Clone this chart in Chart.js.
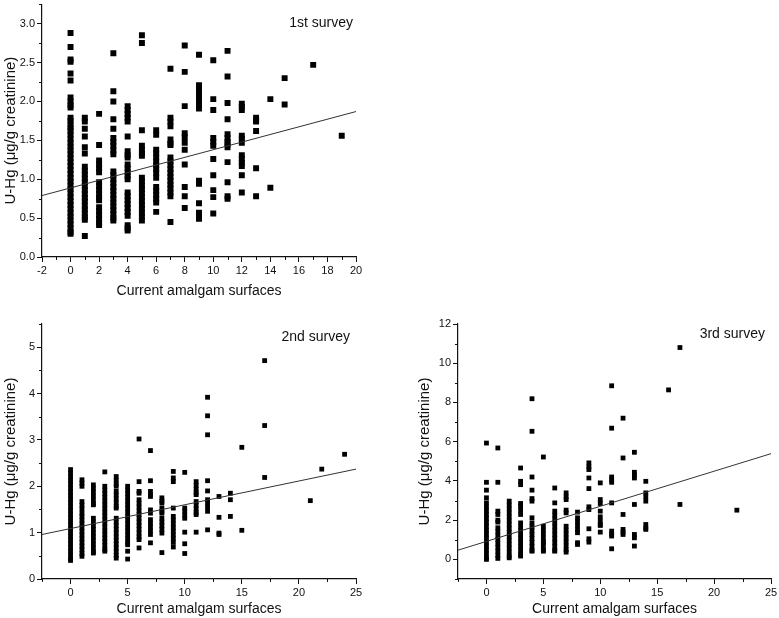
<!DOCTYPE html>
<html>
<head>
<meta charset="utf-8">
<script src="https://cdn.jsdelivr.net/npm/chart.js@4.4.1/dist/chart.umd.min.js"></script>
<style>
  body { margin: 0; background: #fff; width: 779px; height: 618px; position: relative; overflow: hidden; }
  canvas { position: absolute; }
</style>
</head>
<body>
<canvas id="c1" width="390" height="300" style="left:0;top:0"></canvas>
<canvas id="c2" width="390" height="318" style="left:0;top:300px"></canvas>
<canvas id="c3" width="389" height="318" style="left:390px;top:300px"></canvas>
<script>
// 1st survey: amalgam surfaces and the U-Hg values read at each of them
const s1Surfaces = [0, 1, 2, 3, 4, 5, 6, 7, 8, 9, 10, 11, 12, 13, 14, 15, 17, 19];
const s1Hg = [
  [2.88, 2.70, 2.54, 2.51, 2.36, 2.27, 2.05, 2.00, 1.95, 1.92, 1.79, 1.75, 1.70, 1.66, 1.62, 1.57, 1.52, 1.47, 1.42, 1.37, 1.32, 1.27, 1.22, 1.17, 1.12, 1.07, 1.02, 0.97, 0.92, 0.87, 0.82, 0.77, 0.72, 0.67, 0.62, 0.57, 0.52, 0.47, 0.42, 0.37, 0.32, 0.30],
  [1.79, 1.74, 1.65, 1.55, 1.41, 1.33, 1.16, 1.11, 1.06, 1.01, 0.96, 0.91, 0.86, 0.81, 0.76, 0.72, 0.66, 0.61, 0.56, 0.51, 0.48, 0.27],
  [1.84, 1.44, 1.24, 1.19, 1.14, 1.09, 0.96, 0.91, 0.86, 0.81, 0.76, 0.73, 0.64, 0.59, 0.54, 0.49, 0.44, 0.41],
  [2.62, 2.13, 2.00, 1.77, 1.65, 1.53, 1.48, 1.43, 1.37, 1.32, 1.10, 1.05, 1.00, 0.95, 0.90, 0.85, 0.80, 0.75, 0.70, 0.65, 0.60, 0.55, 0.50, 0.47],
  [1.94, 1.89, 1.84, 1.79, 1.74, 1.55, 1.36, 1.31, 1.28, 1.19, 1.14, 1.09, 1.04, 1.00, 0.83, 0.78, 0.73, 0.68, 0.63, 0.58, 0.53, 0.41, 0.37, 0.34],
  [2.85, 2.75, 1.63, 1.43, 1.38, 1.33, 1.30, 1.02, 0.97, 0.92, 0.87, 0.82, 0.77, 0.72, 0.67, 0.62, 0.57, 0.52, 0.47],
  [1.63, 1.57, 1.38, 1.33, 1.28, 1.23, 1.18, 1.13, 1.08, 1.02, 0.90, 0.85, 0.80, 0.75, 0.70, 0.58],
  [2.42, 1.79, 1.74, 1.68, 1.51, 1.46, 1.44, 1.28, 1.23, 1.18, 1.13, 1.08, 1.03, 0.98, 0.93, 0.88, 0.83, 0.78, 0.45],
  [2.72, 2.38, 1.94, 1.59, 1.54, 1.47, 1.38, 1.19, 0.90, 0.78, 0.63],
  [2.60, 2.21, 2.16, 2.11, 2.06, 2.00, 1.96, 1.91, 0.98, 0.94, 0.69, 0.57, 0.53, 0.49],
  [2.53, 2.03, 1.89, 1.53, 1.48, 1.43, 1.26, 1.05, 0.86, 0.77, 0.56],
  [2.65, 2.32, 1.98, 1.77, 1.58, 1.53, 1.48, 1.45, 1.41, 1.22, 0.96, 0.78, 0.75],
  [1.97, 1.93, 1.89, 1.56, 1.52, 1.47, 1.31, 1.26, 1.21, 1.17, 1.05, 0.83],
  [1.79, 1.76, 1.74, 1.62, 1.14, 0.78],
  [2.03, 0.89],
  [2.30, 1.96],
  [2.47],
  [1.56]
];
const s1FitX = [-2, 20];
const s1FitY = [0.79, 1.87];

// 2nd survey
const s2Surfaces = [0, 1, 2, 3, 4, 5, 6, 7, 8, 9, 10, 11, 12, 13, 14, 15, 17, 21, 22, 24];
const s2Hg = [
  [2.36, 2.28, 2.20, 2.12, 2.04, 1.96, 1.88, 1.80, 1.72, 1.64, 1.56, 1.48, 1.40, 1.32, 1.24, 1.16, 1.08, 1.00, 0.92, 0.84, 0.76, 0.68, 0.60, 0.52, 0.44, 0.40],
  [2.14, 2.07, 2.00, 1.67, 1.59, 1.51, 1.42, 1.35, 1.27, 1.19, 1.11, 1.03, 0.95, 0.87, 0.79, 0.71, 0.63, 0.55, 0.49],
  [2.03, 1.95, 1.87, 1.79, 1.71, 1.63, 1.60, 1.31, 1.23, 1.15, 1.07, 0.99, 0.91, 0.83, 0.75, 0.67, 0.59, 0.56],
  [2.31, 2.00, 1.92, 1.84, 1.76, 1.68, 1.60, 1.52, 1.44, 1.36, 1.28, 1.20, 1.12, 1.04, 0.96, 0.88, 0.80, 0.72, 0.64, 0.60],
  [2.21, 2.13, 2.05, 2.00, 1.89, 1.81, 1.73, 1.65, 1.57, 1.53, 1.31, 1.23, 1.15, 1.07, 0.99, 0.91, 0.83, 0.75, 0.67, 0.59, 0.51, 0.45],
  [2.00, 1.92, 1.84, 1.76, 1.68, 1.60, 1.52, 1.44, 1.35, 1.27, 1.19, 1.11, 1.03, 0.95, 0.87, 0.79, 0.74, 0.60, 0.43],
  [3.02, 2.10, 1.89, 1.85, 1.71, 1.63, 1.55, 1.47, 1.39, 1.31, 1.23, 1.15, 1.07, 0.99, 0.91, 0.85, 0.67],
  [2.77, 2.12, 1.89, 1.82, 1.78, 1.49, 1.42, 1.28, 1.20, 1.12, 1.04, 0.96, 0.78],
  [1.75, 1.68, 1.64, 1.53, 1.46, 1.42, 1.31, 1.23, 1.15, 1.07, 0.99, 0.57],
  [2.32, 2.18, 2.10, 1.53, 1.35, 1.27, 1.19, 1.11, 1.03, 0.95, 0.87, 0.79, 0.69],
  [2.30, 1.53, 1.46, 1.38, 1.31, 1.01, 0.76, 0.55],
  [2.10, 2.02, 1.94, 1.86, 1.82, 1.67, 1.59, 1.51, 1.43, 1.39, 1.01],
  [3.92, 3.52, 3.11, 2.12, 1.90, 1.71, 1.63, 1.55, 1.46, 1.06],
  [1.78, 1.33, 0.99, 0.96],
  [1.85, 1.71, 1.35],
  [2.84, 1.05],
  [4.71, 3.31, 2.19],
  [1.69],
  [2.37],
  [2.69]
];
const s2FitX = [-2.5, 25];
const s2FitY = [0.96, 2.37];

// 3rd survey
const s3Surfaces = [0, 1, 2, 3, 4, 5, 6, 7, 8, 9, 10, 11, 12, 13, 14, 16, 17, 22];
const s3Hg = [
  [5.93, 3.93, 3.53, 3.14, 2.88, 2.68, 2.48, 2.28, 2.08, 1.88, 1.68, 1.48, 1.28, 1.08, 0.88, 0.68, 0.48, 0.28, 0.08, 0.00],
  [5.68, 3.93, 2.46, 2.29, 2.00, 1.90, 1.61, 1.41, 1.21, 1.01, 0.81, 0.61, 0.41, 0.21, 0.05],
  [2.97, 2.77, 2.57, 2.37, 2.17, 1.97, 1.77, 1.57, 1.37, 1.17, 0.97, 0.77, 0.57, 0.37, 0.17, 0.08],
  [4.66, 3.98, 3.81, 2.85, 2.71, 2.51, 2.29, 1.86, 1.66, 1.46, 1.26, 1.06, 0.86, 0.66, 0.46, 0.26, 0.17],
  [8.19, 6.53, 4.20, 3.53, 3.10, 2.97, 2.12, 1.86, 1.66, 1.46, 1.26, 1.06, 0.86, 0.66, 0.46, 0.42],
  [5.22, 1.69, 1.49, 1.29, 1.09, 0.89, 0.85, 0.68, 0.48, 0.42],
  [3.64, 2.88, 2.46, 2.26, 2.06, 1.86, 1.66, 1.46, 1.26, 1.06, 0.86, 0.66, 0.46, 0.42],
  [3.39, 3.19, 3.05, 2.51, 2.37, 1.69, 1.49, 1.29, 1.09, 0.89, 0.69, 0.49, 0.37],
  [2.41, 2.12, 1.92, 1.72, 1.52, 1.36, 0.85, 0.76],
  [4.92, 4.72, 4.58, 4.15, 3.61, 2.68, 2.54, 1.56, 1.05, 0.88],
  [3.90, 3.05, 2.85, 2.46, 2.17, 1.97, 1.77, 1.73, 1.39],
  [8.85, 6.69, 4.20, 4.05, 3.93, 2.88, 1.44, 1.29, 1.19, 0.54],
  [7.20, 5.17, 2.29, 1.53, 1.38, 1.27],
  [5.46, 4.44, 4.29, 4.15, 2.80, 1.27, 1.10, 0.68],
  [3.98, 3.39, 3.19, 2.97, 1.78, 1.60, 1.53],
  [8.64],
  [10.8, 2.80],
  [2.51]
];
const s3FitX = [-2.5, 25];
const s3FitY = [0.47, 5.39];

Chart.defaults.font.family = '"Liberation Sans", Arial, sans-serif';
Chart.defaults.color = '#111';

function toPoints(xs, lists) {
  const pts = [];
  xs.forEach((x, i) => lists[i].forEach(y => pts.push({ x: x, y: y })));
  return pts;
}

function steps(from, to, step) {
  const out = [];
  for (let v = from; v <= to + 1e-9; v += step) out.push(Math.round(v * 100) / 100);
  return out;
}

// short minor ticks between the labelled ones
const minorTicks = {
  id: 'minorTicks',
  afterDraw(chart, args, opts) {
    const ctx = chart.ctx, a = chart.chartArea;
    const xs = chart.scales.x, ys = chart.scales.y;
    ctx.save();
    ctx.strokeStyle = '#111';
    ctx.lineWidth = 1;
    opts.x.forEach(v => {
      const p = Math.round(xs.getPixelForValue(v)) + 0.5;
      ctx.beginPath(); ctx.moveTo(p, a.bottom); ctx.lineTo(p, a.bottom + 3); ctx.stroke();
    });
    opts.y.forEach(v => {
      const p = Math.round(ys.getPixelForValue(v)) + 0.5;
      ctx.beginPath(); ctx.moveTo(a.left, p); ctx.lineTo(a.left - 3, p); ctx.stroke();
    });
    ctx.restore();
  }
};

// "1st survey" etc. in the top right corner
const surveyLabel = {
  id: 'surveyLabel',
  afterDraw(chart, args, opts) {
    const ctx = chart.ctx, a = chart.chartArea;
    ctx.save();
    ctx.font = '14px "Liberation Sans", Arial, sans-serif';
    ctx.fillStyle = '#111';
    ctx.textAlign = 'right';
    ctx.textBaseline = 'middle';
    ctx.fillText(opts.text, a.right - opts.dx, a.top + opts.dy);
    ctx.restore();
  }
};

function makeChart(id, p) {
  new Chart(document.getElementById(id), {
    type: 'scatter',
    data: {
      datasets: [{
        type: 'line',
        data: p.fitX.map((x, i) => ({ x: x, y: p.fitY[i] })),
        borderColor: '#333',
        borderWidth: 1,
        pointRadius: 0
      }, {
        data: toPoints(p.surfaces, p.hg),
        backgroundColor: '#000',
        borderWidth: 0,
        pointStyle: 'rect',
        pointRadius: p.r,
        pointHoverRadius: p.r
      }]
    },
    options: {
      responsive: false,
      animation: false,
      events: [],
      layout: { padding: p.pad },
      plugins: {
        legend: { display: false },
        tooltip: { enabled: false },
        minorTicks: { x: p.xMinor, y: p.yMinor },
        surveyLabel: p.label
      },
      scales: {
        x: {
          type: 'linear',
          min: p.xMin, max: p.xMax,
          afterBuildTicks: s => { s.ticks = p.xMajor.map(v => ({ value: v })); },
          afterFit: s => { s.height = p.xHeight; s.paddingLeft = 0; s.paddingRight = 0; },
          grid: { drawOnChartArea: false, tickLength: 5, color: '#111' },
          border: { color: '#111', width: 1.2 },
          ticks: { font: { size: 11 }, padding: 2, maxRotation: 0 },
          title: { display: true, text: 'Current amalgam surfaces', font: { size: 14 }, padding: { top: 2, bottom: 0 } }
        },
        y: {
          min: p.yMin, max: p.yMax,
          afterBuildTicks: s => { s.ticks = p.yMajor.map(v => ({ value: v })); },
          afterFit: s => { s.width = p.yWidth; s.paddingTop = 0; s.paddingBottom = 0; },
          grid: { drawOnChartArea: false, tickLength: 5, color: '#111' },
          border: { color: '#111', width: 1.2 },
          ticks: { font: { size: 11 }, padding: 2, callback: p.yFmt },
          title: { display: true, text: 'U-Hg (μg/g creatinine)', font: { size: 15 }, padding: { top: 2, bottom: 2 } }
        }
      }
    },
    plugins: [minorTicks, surveyLabel]
  });
}

window.onload = function() {
  makeChart('c1', {
    surfaces: s1Surfaces, hg: s1Hg, fitX: s1FitX, fitY: s1FitY, r: 4.2,
    xMin: -2, xMax: 20, xMajor: steps(-2, 20, 2), xMinor: steps(-1, 19, 2),
    yMin: 0, yMax: 3.25, yMajor: steps(0, 3, 0.5), yMinor: steps(0.25, 3.25, 0.5),
    yFmt: v => v.toFixed(1),
    pad: { left: 0, top: 2, right: 34, bottom: 0 }, yWidth: 42, xHeight: 43,
    label: { text: '1st survey', dx: 3, dy: 19 }
  });
  makeChart('c2', {
    surfaces: s2Surfaces, hg: s2Hg, fitX: s2FitX, fitY: s2FitY, r: 3.4,
    xMin: -2.5, xMax: 25, xMajor: steps(0, 25, 5), xMinor: steps(-2.5, 22.5, 5),
    yMin: 0, yMax: 5.5, yMajor: steps(0, 5, 1), yMinor: steps(0.5, 5.5, 1),
    yFmt: v => String(v),
    pad: { left: 0, top: 24, right: 34, bottom: 0 }, yWidth: 42, xHeight: 39,
    label: { text: '2nd survey', dx: 6, dy: 13 }
  });
  makeChart('c3', {
    surfaces: s3Surfaces, hg: s3Hg, fitX: s3FitX, fitY: s3FitY, r: 3.4,
    xMin: -2.5, xMax: 25, xMajor: steps(0, 25, 5), xMinor: steps(-2.5, 22.5, 5),
    yMin: -1, yMax: 12, yMajor: steps(0, 12, 2), yMinor: steps(-1, 11, 2),
    yFmt: v => String(v),
    pad: { left: 24, top: 24, right: 8, bottom: 0 }, yWidth: 44, xHeight: 39,
    label: { text: '3rd survey', dx: 6, dy: 10 }
  });
};
</script>
</body>
</html>
